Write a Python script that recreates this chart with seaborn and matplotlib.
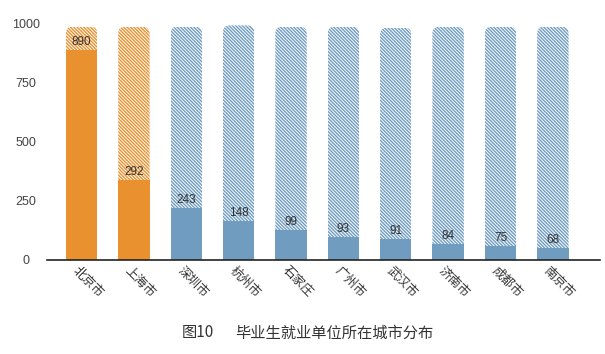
import matplotlib
matplotlib.use("Agg")
import matplotlib.pyplot as plt
from matplotlib.patches import FancyBboxPatch
from matplotlib.transforms import ScaledTranslation
import seaborn as sns
import pandas as pd

cities = ["北京市", "上海市", "深圳市", "杭州市", "石家庄", "广州市", "武汉市", "济南市", "成都市", "南京市"]
bar_heights = [886, 338, 218, 166, 127, 98, 87, 66, 59, 49]
label_values = ["890", "292", "243", "148", "99", "93", "91", "84", "75", "68"]
background = [985, 985, 985, 990, 985, 985, 980, 985, 985, 985]
groups = ["top", "top", "other", "other", "other", "other", "other", "other", "other", "other"]
yticks = [0, 250, 500, 750, 1000]

ORANGE = "#E8912E"
BLUE = "#709CC0"
group_color = {"top": ORANGE, "other": BLUE}
palette = {c: group_color[g] for c, g in zip(cities, groups)}

df = pd.DataFrame({"city": cities, "height": bar_heights, "bg": background, "group": groups})

sns.set_theme(style="white")
plt.rcParams["font.family"] = ["Noto Sans CJK SC", "DejaVu Sans"]
plt.rcParams["hatch.linewidth"] = 1.0

fig = plt.figure(figsize=(6.05, 3.54), dpi=100)
ax = fig.add_axes([47 / 605, 1 - 260 / 354, 553 / 605, 237 / 354])

# background hatched bars
sns.barplot(data=df, x="city", y="bg", hue="city", palette=palette, dodge=False,
            legend=False, width=0.6, ax=ax, errorbar=None, linewidth=0, saturation=1)
n_bg = len(ax.patches)
px_x = 52.4
px_y = 0.237
r_x = 7 / px_x
asp = (1 / px_y) / (1 / px_x)
for p in ax.patches[:n_bg]:
    col = p.get_facecolor()
    p.set_facecolor("white")
    p.set_edgecolor(col)
    p.set_linewidth(0)
    p.set_hatch("\\" * 10)
    x, y = p.get_x(), p.get_y()
    w, h = p.get_width(), p.get_height()
    clip = FancyBboxPatch((x, y), w, h, boxstyle=f"round,pad=0,rounding_size={r_x}",
                          mutation_aspect=asp, transform=ax.transData)
    p.set_clip_path(clip)

n_cont = len(ax.containers)
# foreground solid bars
sns.barplot(data=df, x="city", y="height", hue="city", palette=palette, dodge=False,
            legend=False, width=0.6, ax=ax, errorbar=None, linewidth=0, saturation=1)
for cont, lab in zip(ax.containers[n_cont:], label_values):
    ax.bar_label(cont, labels=[lab], padding=1.5, fontsize=8.5, color="#333333",
                 family=["Liberation Sans", "DejaVu Sans"])

ax.set_ylim(0, 1000)
ax.set_xlim(-0.66, 9.9)
ax.set_yticks(yticks)
ax.set_yticklabels([str(v) for v in yticks], fontsize=9, color="#444444",
                   family=["Liberation Sans", "DejaVu Sans"], ha="center")
ax.tick_params(axis="y", length=0, pad=15)
ax.tick_params(axis="x", length=0, pad=6)
ax.set_xlabel("")
ax.set_ylabel("")
for s in ["left", "top", "right"]:
    ax.spines[s].set_visible(False)
ax.spines["bottom"].set_color("#222222")
ax.spines["bottom"].set_linewidth(1.2)

off = ScaledTranslation(-5 / 72, 0, fig.dpi_scale_trans)
for lbl in ax.get_xticklabels():
    lbl.set_rotation(-45)
    lbl.set_rotation_mode("anchor")
    lbl.set_ha("left")
    lbl.set_va("center")
    lbl.set_fontsize(9)
    lbl.set_color("#333333")
    lbl.set_transform(lbl.get_transform() + off)

fig.text(182 / 605, 1 - 333 / 354, "图10", fontsize=11, color="#333333", ha="left", va="center")
fig.text(235 / 605, 1 - 333 / 354, "毕业生就业单位所在城市分布", fontsize=11, color="#333333",
         ha="left", va="center")

fig.savefig("out.png", dpi=100)
